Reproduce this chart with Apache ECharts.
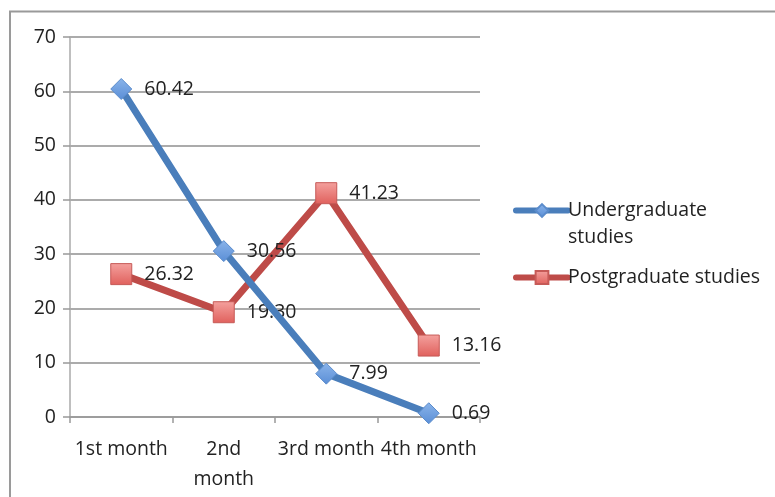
<!DOCTYPE html>
<html lang="en">
<head>
  <meta charset="UTF-8">
  <title>chart</title>
  <style>
    html, body {
      margin: 0;
      padding: 0;
      width: 100%;
      height: 100%;
      background: #fff;
    }
    .main {
      width: 775px;
      height: 497px;
    }
  </style>
</head>
<body>
<div class="main" id="main"></div>
<script src="https://cdn.jsdelivr.net/npm/echarts@6/dist/echarts.min.js"></script>
<script>
  var months = ['1st month', '2nd\nmonth', '3rd month', '4th month'];
  var undergrad = [60.42, 30.56, 7.99, 0.69];
  var postgrad = [26.32, 19.30, 41.23, 13.16];
  var seriesNames = ['Undergraduate\nstudies', 'Postgraduate studies'];
  var yTicks = { min: 0, max: 70, step: 10 };

  var font = 'Open Sans';
  var fs = 19.5;
  var chart = echarts.init(document.getElementById('main'));

  function grad(top, bottom) {
    return new echarts.graphic.LinearGradient(0, 0, 0, 1, [
      { offset: 0, color: top },
      { offset: 1, color: bottom }
    ]);
  }

  function fmt(p) {
    return p.value.toFixed(2);
  }

  var option = {
    backgroundColor: '#fff',
    animation: false,
    textStyle: { fontFamily: font },
    graphic: [{
      type: 'polyline',
      shape: { points: [[10, 497], [10, 11.5], [775, 11.5]] },
      style: { stroke: '#9a9a9a', lineWidth: 2, fill: null }
    }],
    grid: { left: 70, right: 295, top: 37, bottom: 80 },
    legend: {
      orient: 'vertical',
      left: 508,
      top: 165,
      itemWidth: 52,
      itemHeight: 16,
      itemGap: 13,
      lineStyle: { width: 6, cap: 'round' },
      textStyle: { fontSize: fs, color: '#222', lineHeight: 27, fontFamily: font, padding: [0, 0, 0, -5] },
      // blank first line keeps the text's first line level with the icon
      formatter: function(name) {
        return name.indexOf('\n') >= 0 ? '\n' + name : name;
      },
      data: seriesNames
    },
    xAxis: {
      type: 'category',
      data: months,
      boundaryGap: true,
      axisLine: { lineStyle: { color: '#999', width: 1.5 } },
      axisTick: { show: true, interval: 0, length: 6, lineStyle: { color: '#999', width: 1.5 } },
      axisLabel: { fontSize: fs, color: '#222', margin: 17, lineHeight: 30, fontFamily: font, interval: 0 }
    },
    yAxis: {
      type: 'value',
      min: yTicks.min,
      max: yTicks.max,
      interval: yTicks.step,
      axisLine: { show: true, lineStyle: { color: '#aaa', width: 1.5 } },
      axisTick: { show: true, length: 7, lineStyle: { color: '#999', width: 1.5 } },
      axisLabel: { fontSize: fs, color: '#222', margin: 14, fontFamily: font },
      splitLine: { lineStyle: { color: '#8f8f8f', width: 1.5 } }
    },
    series: [{
      name: seriesNames[0],
      type: 'line',
      data: undergrad,
      symbol: 'diamond',
      symbolSize: 21,
      lineStyle: { color: '#4a7ebb', width: 7 },
      itemStyle: { color: grad('#8ab4ea', '#5a8ed6'), borderColor: '#5b8ccc', borderWidth: 1 },
      label: { show: true, position: 'right', distance: 12, fontSize: fs, color: '#222', fontFamily: font, formatter: fmt },
      z: 3
    }, {
      name: seriesNames[1],
      type: 'line',
      data: postgrad,
      symbol: 'rect',
      symbolSize: 21,
      lineStyle: { color: '#be4b48', width: 7 },
      itemStyle: { color: grad('#f4a19e', '#e0605c'), borderColor: '#c65a57', borderWidth: 1 },
      label: { show: true, position: 'right', distance: 12, fontSize: fs, color: '#222', fontFamily: font, formatter: fmt },
      z: 2
    }]
  };

  chart.setOption(option);
</script>
</body>
</html>
